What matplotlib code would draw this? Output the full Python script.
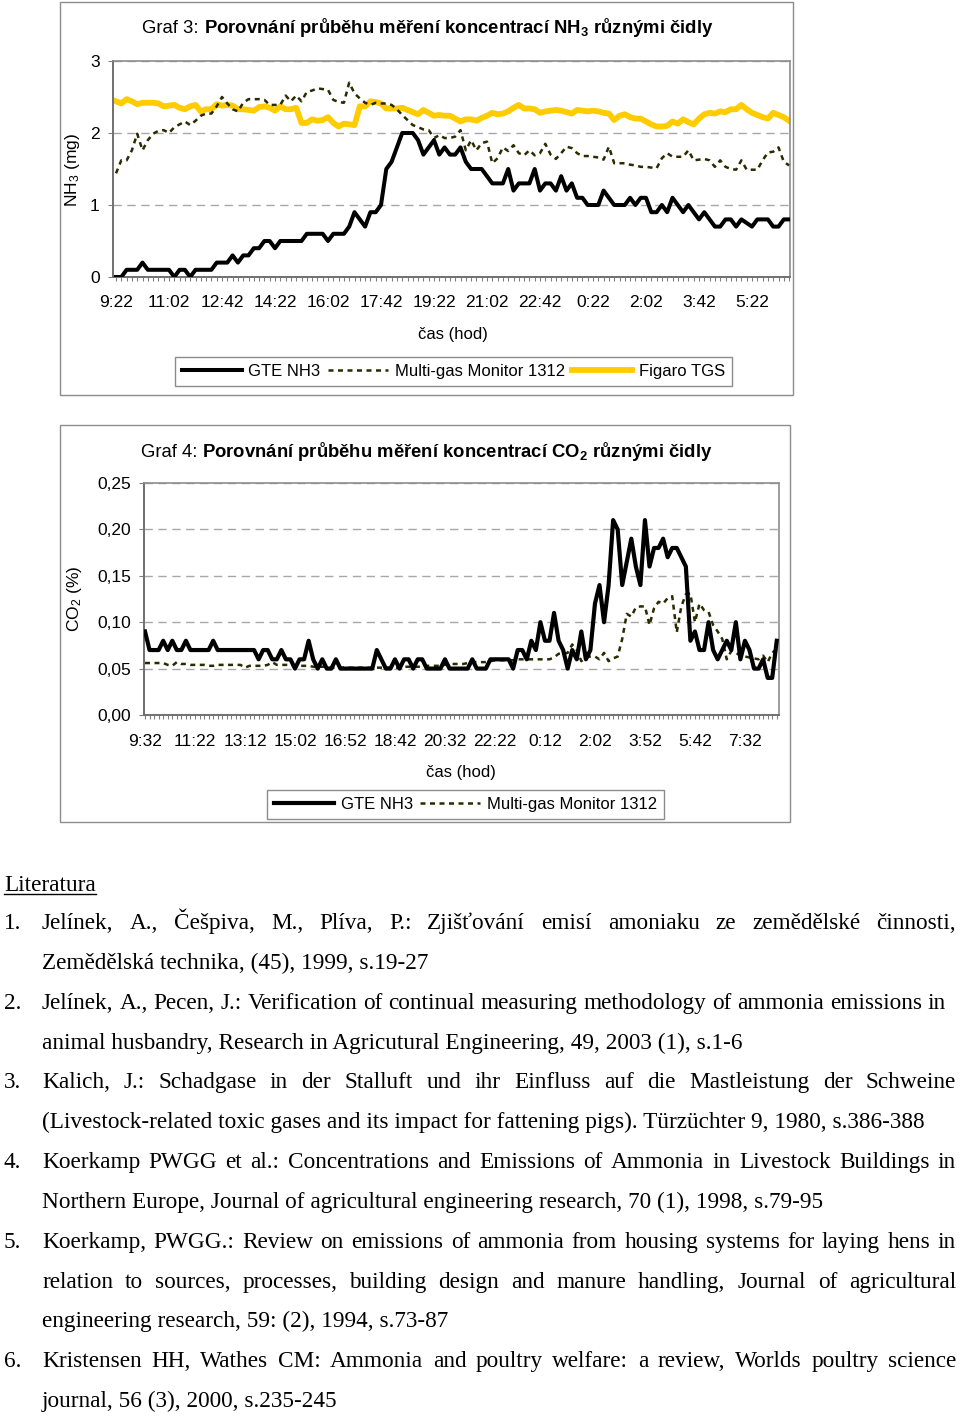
import numpy as np
import matplotlib.pyplot as plt
from matplotlib.patches import Rectangle
from matplotlib.lines import Line2D

plt.rcParams['font.family'] = ['Liberation Sans', 'DejaVu Sans']
plt.rcParams['mathtext.default'] = 'regular'

# ---------------- Graf 3 : NH3 (mg), one reading every 10 min
nh3_times = ["9:22", "11:02", "12:42", "14:22", "16:02", "17:42", "19:22",
             "21:02", "22:42", "0:22", "2:02", "3:42", "5:22"]

nh3_gte = [0, 0, 0.1, 0.1, 0.1, 0.2, 0.1, 0.1, 0.1, 0.1,
           0.1, 0, 0.1, 0.1, 0, 0.1, 0.1, 0.1, 0.1, 0.2,
           0.2, 0.2, 0.3, 0.2, 0.3, 0.3, 0.4, 0.4, 0.5, 0.5,
           0.4, 0.5, 0.5, 0.5, 0.5, 0.5, 0.6, 0.6, 0.6, 0.6,
           0.5, 0.6, 0.6, 0.6, 0.7, 0.9, 0.8, 0.7, 0.9, 0.9,
           1.0, 1.5, 1.6, 1.8, 2.0, 2.0, 2.0, 1.9, 1.7, 1.8,
           1.9, 1.7, 1.8, 1.7, 1.7, 1.8, 1.6, 1.5, 1.5, 1.5,
           1.4, 1.3, 1.3, 1.3, 1.5, 1.2, 1.3, 1.3, 1.3, 1.5,
           1.2, 1.3, 1.3, 1.2, 1.4, 1.2, 1.3, 1.1, 1.1, 1.0,
           1.0, 1.0, 1.2, 1.1, 1.0, 1.0, 1.0, 1.1, 1.0, 1.1,
           1.1, 0.9, 0.9, 1.0, 0.9, 1.1, 1.0, 0.9, 1.0, 0.9,
           0.8, 0.9, 0.8, 0.7, 0.7, 0.8, 0.8, 0.7, 0.8, 0.75,
           0.7, 0.8, 0.8, 0.8, 0.7, 0.7, 0.8, 0.8]

nh3_multigas = [1.44, 1.62, 1.62, 1.76, 1.99, 1.76, 1.90, 1.99, 2.03, 2.04,
                2.00, 2.08, 2.12, 2.16, 2.11, 2.17, 2.24, 2.27, 2.27, 2.37,
                2.50, 2.41, 2.33, 2.30, 2.42, 2.47, 2.47, 2.47, 2.46, 2.39,
                2.39, 2.39, 2.52, 2.44, 2.52, 2.44, 2.57, 2.59, 2.62, 2.61,
                2.60, 2.46, 2.43, 2.42, 2.70, 2.55, 2.48, 2.42, 2.39, 2.42,
                2.41, 2.41, 2.39, 2.33, 2.25, 2.18, 2.11, 2.08, 2.05, 2.04,
                1.93, 1.97, 1.93, 1.93, 1.95, 2.04, 1.76, 1.90, 1.76, 1.86,
                1.88, 1.58, 1.65, 1.80, 1.75, 1.83, 1.72, 1.69, 1.76, 1.69,
                1.72, 1.85, 1.70, 1.64, 1.72, 1.81, 1.79, 1.72, 1.68, 1.68,
                1.67, 1.66, 1.63, 1.81, 1.58, 1.58, 1.58, 1.56, 1.55, 1.53,
                1.53, 1.52, 1.51, 1.65, 1.72, 1.67, 1.67, 1.67, 1.76, 1.62,
                1.63, 1.64, 1.62, 1.53, 1.62, 1.53, 1.50, 1.49, 1.62, 1.49,
                1.49, 1.49, 1.62, 1.73, 1.74, 1.80, 1.60, 1.55]

nh3_figaro = [2.44, 2.41, 2.47, 2.44, 2.40, 2.42, 2.42, 2.42, 2.41, 2.37,
              2.38, 2.39, 2.35, 2.33, 2.37, 2.39, 2.30, 2.33, 2.33, 2.40,
              2.38, 2.39, 2.38, 2.33, 2.33, 2.32, 2.31, 2.36, 2.37, 2.35,
              2.31, 2.37, 2.33, 2.33, 2.35, 2.14, 2.14, 2.19, 2.17, 2.18,
              2.22, 2.14, 2.09, 2.13, 2.12, 2.11, 2.37, 2.37, 2.44, 2.43,
              2.41, 2.34, 2.34, 2.34, 2.35, 2.32, 2.29, 2.26, 2.32, 2.28,
              2.24, 2.25, 2.24, 2.24, 2.20, 2.16, 2.19, 2.19, 2.17, 2.21,
              2.24, 2.28, 2.26, 2.27, 2.30, 2.35, 2.39, 2.34, 2.34, 2.33,
              2.28, 2.30, 2.31, 2.32, 2.31, 2.29, 2.27, 2.32, 2.31, 2.30,
              2.31, 2.30, 2.28, 2.27, 2.18, 2.24, 2.26, 2.22, 2.20, 2.20,
              2.16, 2.12, 2.09, 2.09, 2.10, 2.16, 2.13, 2.19, 2.15, 2.12,
              2.20, 2.26, 2.28, 2.27, 2.30, 2.29, 2.33, 2.33, 2.39, 2.33,
              2.28, 2.25, 2.22, 2.20, 2.28, 2.25, 2.22, 2.17]

# ---------------- Graf 4 : CO2 (%), one reading every 10 min
co2_times = ["9:32", "11:22", "13:12", "15:02", "16:52", "18:42", "20:32",
             "22:22", "0:12", "2:02", "3:52", "5:42", "7:32"]

co2_gte = [0.09, 0.07, 0.07, 0.07, 0.08, 0.07, 0.08, 0.07, 0.07, 0.08,
           0.07, 0.07, 0.07, 0.07, 0.07, 0.08, 0.07, 0.07, 0.07, 0.07,
           0.07, 0.07, 0.07, 0.07, 0.07, 0.06, 0.07, 0.07, 0.06, 0.06,
           0.07, 0.06, 0.06, 0.05, 0.06, 0.06, 0.08, 0.06, 0.05, 0.06,
           0.05, 0.05, 0.06, 0.05, 0.05, 0.05, 0.05, 0.05, 0.05, 0.05,
           0.05, 0.07, 0.06, 0.05, 0.05, 0.06, 0.05, 0.06, 0.06, 0.05,
           0.06, 0.06, 0.05, 0.05, 0.05, 0.05, 0.06, 0.05, 0.05, 0.05,
           0.05, 0.05, 0.06, 0.05, 0.05, 0.05, 0.06, 0.06, 0.06, 0.06,
           0.06, 0.05, 0.07, 0.07, 0.06, 0.08, 0.07, 0.10, 0.08, 0.08,
           0.11, 0.08, 0.07, 0.05, 0.07, 0.06, 0.09, 0.06, 0.07, 0.12,
           0.14, 0.10, 0.14, 0.21, 0.20, 0.14, 0.165, 0.19, 0.16, 0.14,
           0.21, 0.16, 0.18, 0.18, 0.19, 0.17, 0.18, 0.18, 0.17, 0.16,
           0.08, 0.09, 0.07, 0.07, 0.10, 0.07, 0.06, 0.07, 0.08, 0.07,
           0.10, 0.06, 0.08, 0.07, 0.05, 0.05, 0.06, 0.04, 0.04, 0.08]

co2_multigas = [0.056, 0.056, 0.056, 0.056, 0.056, 0.054, 0.053, 0.057, 0.055, 0.055,
                0.054, 0.054, 0.054, 0.054, 0.053, 0.053, 0.054, 0.054, 0.054, 0.054,
                0.054, 0.054, 0.051, 0.053, 0.053, 0.053, 0.053, 0.054, 0.057, 0.054,
                0.054, 0.054, 0.054, 0.053, 0.053, 0.053, 0.053, 0.052, 0.052, 0.052,
                0.052, 0.051, 0.051, 0.051, 0.051, 0.051, 0.051, 0.051, 0.051, 0.051,
                0.051, 0.051, 0.051, 0.051, 0.051, 0.051, 0.051, 0.052, 0.052, 0.052,
                0.052, 0.052, 0.053, 0.053, 0.053, 0.053, 0.054, 0.055, 0.055, 0.055,
                0.055, 0.056, 0.057, 0.057, 0.057, 0.057, 0.058, 0.059, 0.059, 0.059,
                0.059, 0.059, 0.060, 0.060, 0.060, 0.060, 0.060, 0.060, 0.060, 0.060,
                0.062, 0.066, 0.066, 0.067, 0.076, 0.070, 0.058, 0.062, 0.063, 0.063,
                0.060, 0.067, 0.058, 0.061, 0.063, 0.082, 0.109, 0.106, 0.116, 0.117,
                0.117, 0.097, 0.115, 0.122, 0.120, 0.126, 0.128, 0.089, 0.117, 0.130,
                0.131, 0.100, 0.120, 0.113, 0.111, 0.097, 0.090, 0.082, 0.060, 0.069,
                0.067, 0.064, 0.063, 0.062, 0.061, 0.060, 0.064, 0.057, 0.067, 0.071]

references = [
    ("1.", "Jelínek, A., Češpiva, M., Plíva, P.: Zjišťování emisí amoniaku ze zemědělské činnosti,", 956),
    (None, "Zemědělská technika, (45), 1999, s.19-27", None),
    ("2.", "Jelínek, A., Pecen, J.: Verification of continual measuring methodology of ammonia emissions in", 946),
    (None, "animal husbandry, Research in Agricutural Engineering, 49, 2003 (1), s.1-6", None),
    ("3.", "Kalich, J.: Schadgase in der Stalluft und ihr Einfluss auf die Mastleistung der Schweine", 956),
    (None, "(Livestock-related toxic gases and its impact for fattening pigs). Türzüchter 9, 1980, s.386-388", None),
    ("4.", "Koerkamp PWGG et al.: Concentrations and Emissions of Ammonia in Livestock Buildings in", 956),
    (None, "Northern Europe, Journal of agricultural engineering research, 70 (1), 1998, s.79-95", None),
    ("5.", "Koerkamp, PWGG.: Review on emissions of ammonia from housing systems for laying hens in", 956),
    (None, "relation to sources, processes, building design and manure handling, Journal of agricultural", 956),
    (None, "engineering research, 59: (2), 1994, s.73-87", None),
    ("6.", "Kristensen HH, Wathes CM: Ammonia and poultry welfare: a review, Worlds poultry science", 956),
    (None, "journal, 56 (3), 2000, s.235-245", None),
]

W, H = 960, 1416
fig = plt.figure(figsize=(W / 100, H / 100), dpi=100)
renderer = fig.canvas.get_renderer()

GRAY = '#8c8c8c'
MG_STYLE = dict(color='#2b2b00', lw=1.8, ls=(0, (2, 1.8)))


def fx(px):
    return px / W


def fy(py):
    return 1 - py / H


def frame(x0, y0, x1, y1):
    fig.add_artist(Rectangle((fx(x0), fy(y1)), fx(x1) - fx(x0), fy(y0) - fy(y1),
                             transform=fig.transFigure, fill=False, ec=GRAY, lw=1.0))


def make_axes(x0, y0, x1, y1, first_x, step_px, n, labels, every, ymax, yticks, yfmt, xpad):
    ax = fig.add_axes([fx(x0), fy(y1), fx(x1) - fx(x0), fy(y0) - fy(y1)])
    ax.set_xlim((x0 - first_x) / step_px, (x1 - first_x) / step_px)
    ax.set_ylim(0, ymax)
    ax.set_xticks(range(n))
    ax.set_xticklabels([labels[i // every] if i % every == 0 else '' for i in range(n)])
    ax.set_yticks(yticks)
    ax.set_yticklabels([yfmt(v) for v in yticks])
    ax.tick_params(axis='x', length=3, width=0.8, color='#808080', pad=xpad, labelsize=12.5)
    ax.tick_params(axis='y', length=3.5, width=0.8, color='#808080', pad=6, labelsize=12.5)
    for side in ['left', 'bottom']:
        ax.spines[side].set_color('#707070')
        ax.spines[side].set_linewidth(1.4)
    for side in ['top', 'right']:
        ax.spines[side].set_color('#8c8c8c')
        ax.spines[side].set_linewidth(1.2)
    ax.yaxis.grid(True, color='#a8a8a8', linestyle=(0, (6, 4)), lw=1.0)
    ax.set_axisbelow(True)
    return ax


def title(x_split, y_base, num, rest):
    fig.text(fx(x_split), fy(y_base), num, ha='right', va='baseline', fontsize=13.3)
    fig.text(fx(x_split + 5), fy(y_base), rest, ha='left', va='baseline',
             fontsize=13.3, fontweight='bold')


# ---------------- Graf 3
frame(60, 2, 793, 395)
title(199, 33, "Graf 3:", "Porovnání průběhu měření koncentrací NH$_3$ různými čidly")
ax1 = make_axes(113, 61, 790, 277, 116, 5.3, len(nh3_gte), nh3_times, 10,
                3, [0, 1, 2, 3], lambda v: f"{v:d}", 10)
x1 = np.arange(len(nh3_gte))
h_fig, = ax1.plot(x1, nh3_figaro, color='#FFCC00', lw=4.2, zorder=2, label='Figaro TGS')
h_mg, = ax1.plot(x1, nh3_multigas, zorder=3, label='Multi-gas Monitor 1312', **MG_STYLE)
h_gte, = ax1.plot(x1, nh3_gte, color='black', lw=2.9, zorder=4, label='GTE NH3')
fig.text(fx(73), fy(170), "NH$_3$ (mg)", rotation=90, ha='center', va='center', fontsize=12.5)
fig.text(fx(453), fy(334), "čas (hod)", ha='center', va='center', fontsize=12)
leg = ax1.legend(handles=[h_gte, h_mg, h_fig], loc='center', ncol=3,
                 bbox_to_anchor=(fx(453.5), fy(371.5)), bbox_transform=fig.transFigure,
                 fancybox=False, edgecolor=GRAY, framealpha=1, fontsize=12,
                 handlelength=3.6, handletextpad=0.4, columnspacing=0.45, borderpad=0.4)
leg.get_frame().set_linewidth(1.0)

# ---------------- Graf 4
frame(60, 425, 790, 822)
title(197, 457, "Graf 4:", "Porovnání průběhu měření koncentrací CO$_2$ různými čidly")
ax2 = make_axes(144, 483, 779, 715, 145, 4.545, len(co2_gte), co2_times, 11,
                0.25, [0, 0.05, 0.10, 0.15, 0.20, 0.25],
                lambda v: f"{v:.2f}".replace('.', ','), 11)
x2 = np.arange(len(co2_gte))
h2_mg, = ax2.plot(x2, co2_multigas, zorder=3, label='Multi-gas Monitor 1312', **MG_STYLE)
h2_gte, = ax2.plot(x2, co2_gte, color='black', lw=3.0, zorder=4, label='GTE NH3')
fig.text(fx(75), fy(599), "CO$_2$ (%)", rotation=90, ha='center', va='center', fontsize=12.5)
fig.text(fx(461), fy(773), "čas (hod)", ha='center', va='center', fontsize=12)
leg2 = ax2.legend(handles=[h2_gte, h2_mg], loc='center', ncol=2,
                  bbox_to_anchor=(fx(465.5), fy(804.5)), bbox_transform=fig.transFigure,
                  fancybox=False, edgecolor=GRAY, framealpha=1, fontsize=12,
                  handlelength=3.6, handletextpad=0.4, columnspacing=0.45, borderpad=0.4)
leg2.get_frame().set_linewidth(1.0)

# ---------------- Literatura
serif = ['Liberation Serif', 'DejaVu Serif']
probe = fig.text(0, 0, references[3][1], fontsize=10, family=serif)
ref_size = 10 * 700 / probe.get_window_extent(renderer).width
probe.remove()

lit = fig.text(fx(4), fy(891), "Literatura", fontsize=ref_size, family=serif, va='baseline')
lit_w = lit.get_window_extent(renderer).width
fig.add_artist(Line2D([fx(4), fx(4 + lit_w)], [fy(894), fy(894)], transform=fig.transFigure,
                      color='black', lw=1.0))

for k, (num, line, right) in enumerate(references):
    base = 929 + 39.85 * k
    if num:
        fig.text(fx(4), fy(base), num, fontsize=ref_size, family=serif, va='baseline')
    if right is None:
        fig.text(fx(42), fy(base), line, fontsize=ref_size, family=serif, va='baseline')
        continue
    words = line.split()
    items = [fig.text(0, fy(base), w, fontsize=ref_size, family=serif, va='baseline')
             for w in words]
    widths = [t.get_window_extent(renderer).width for t in items]
    gap = (right - 42 - sum(widths)) / (len(words) - 1)
    xpos = 42
    for t, w in zip(items, widths):
        t.set_x(fx(xpos))
        xpos += w + gap

fig.savefig("out.png", dpi=100)
